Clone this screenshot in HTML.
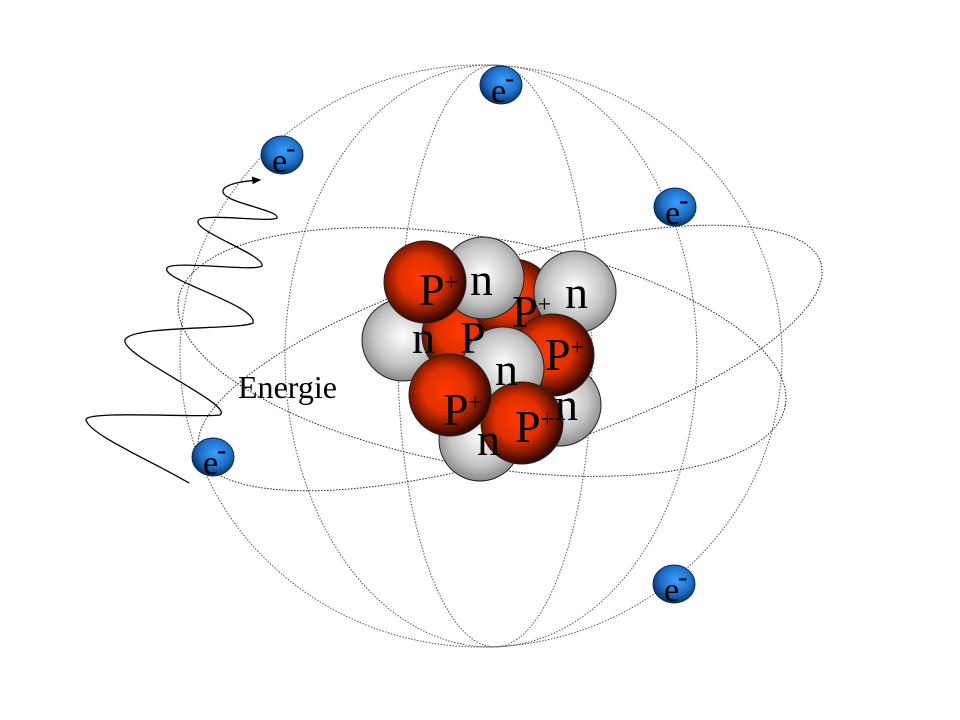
<!DOCTYPE html>
<html><head><meta charset="utf-8"><style>
html,body{margin:0;padding:0;background:#fff;}
svg{display:block;}
text{font-family:"Liberation Serif",serif;fill:#000;}
</style></head><body>
<svg width="960" height="720" viewBox="0 0 960 720" xmlns="http://www.w3.org/2000/svg">
<defs>
<radialGradient id="gp" cx="0.45" cy="0.45" r="0.55">
<stop offset="0" stop-color="#ff3a00"/><stop offset="0.5" stop-color="#e03000"/><stop offset="1" stop-color="#300600"/>
</radialGradient>
<radialGradient id="gn" cx="0.5" cy="0.45" r="0.6">
<stop offset="0" stop-color="#ffffff"/><stop offset="0.6" stop-color="#c4c4c4"/><stop offset="1" stop-color="#7a7a7a"/>
</radialGradient>
<radialGradient id="ge" cx="0.55" cy="0.4" r="0.6">
<stop offset="0" stop-color="#3aa0ff"/><stop offset="0.6" stop-color="#1e70c8"/><stop offset="1" stop-color="#0a3060"/>
</radialGradient>
<marker id="ar" markerWidth="8" markerHeight="8" refX="6" refY="3" orient="auto">
<path d="M0,0 L7,3 L0,6 z" fill="#000"/>
</marker>
</defs>
<g fill="none" stroke="#555" stroke-width="1" stroke-dasharray="1.5,1.5">
<ellipse cx="481" cy="356" rx="301" ry="291"/>
<ellipse cx="491" cy="356" rx="206" ry="291"/>
<ellipse cx="495" cy="356" rx="97" ry="291"/>
</g>
<g fill="none" stroke="#222" stroke-width="1" stroke-dasharray="1.5,1.5">
<ellipse cx="482" cy="352" rx="308" ry="114" transform="rotate(10 482 352)"/>
<ellipse cx="510" cy="358" rx="325" ry="97" transform="rotate(-17 510 358)"/>
</g>
<path d="M189,483 C150,460 90,435 86,420 C84,410 200,418 220,415 C235,405 120,355 125,340 C130,325 240,330 253,323 C258,305 160,280 167,268 C172,260 255,272 262,266 C265,255 195,232 198,221 C200,212 270,223 277,218 C280,210 225,203 223,192 C222,185 240,181 260,180" fill="none" stroke="#000" stroke-width="1.3" marker-end="url(#ar)"/>
<text x="238" y="398" font-size="32" textLength="99" lengthAdjust="spacingAndGlyphs">Energie</text>
<g stroke="#222" stroke-width="1">
<circle cx="480" cy="440" r="41" fill="url(#gn)"/>
<circle cx="560" cy="405" r="41" fill="url(#gn)"/>
<circle cx="403" cy="340" r="41" fill="url(#gn)"/>
<circle cx="463" cy="335" r="41" fill="url(#gp)"/>
<circle cx="513" cy="300" r="41" fill="url(#gp)"/>
<circle cx="575" cy="292" r="41" fill="url(#gn)"/>
<circle cx="483" cy="278" r="41" fill="url(#gn)"/>
<circle cx="425" cy="282" r="41" fill="url(#gp)"/>
<circle cx="553" cy="355" r="41" fill="url(#gp)"/>
<circle cx="503" cy="368" r="41" fill="url(#gn)"/>
<circle cx="522" cy="423" r="41" fill="url(#gp)"/>
<circle cx="450" cy="395" r="41" fill="url(#gp)"/>
</g>
<g font-size="46">
<text x="477" y="455">n</text>
<text x="555" y="420">n</text>
<text x="412" y="353">n</text>
<text x="460" y="353">P</text>
<text x="512" y="327">P<tspan font-size="24" dy="-15">+</tspan></text>
<text x="565" y="308">n</text>
<text x="470" y="295">n</text>
<text x="419" y="305">P<tspan font-size="24" dy="-15">+</tspan></text>
<text x="545" y="370">P<tspan font-size="24" dy="-15">+</tspan></text>
<text x="495" y="385">n</text>
<text x="515" y="442">P<tspan font-size="24" dy="-15">+</tspan></text>
<text x="443" y="425">P<tspan font-size="24" dy="-15">+</tspan></text>
</g>
<g stroke="#0a2a50" stroke-width="1">
<ellipse cx="501" cy="85" rx="21" ry="19" fill="url(#ge)"/>
<ellipse cx="282" cy="155" rx="21" ry="19" fill="url(#ge)"/>
<ellipse cx="675" cy="207" rx="21" ry="19" fill="url(#ge)"/>
<ellipse cx="213" cy="457" rx="21" ry="19" fill="url(#ge)"/>
<ellipse cx="674" cy="584" rx="21" ry="19" fill="url(#ge)"/>
</g>
<g font-size="34">
<text x="491" y="102">e</text><text x="505" y="87" font-size="28">-</text>
<text x="272" y="172">e</text><text x="286" y="157" font-size="28">-</text>
<text x="665" y="224">e</text><text x="679" y="209" font-size="28">-</text>
<text x="203" y="474">e</text><text x="217" y="459" font-size="28">-</text>
<text x="664" y="601">e</text><text x="678" y="586" font-size="28">-</text>
</g>
</svg>
</body></html>
